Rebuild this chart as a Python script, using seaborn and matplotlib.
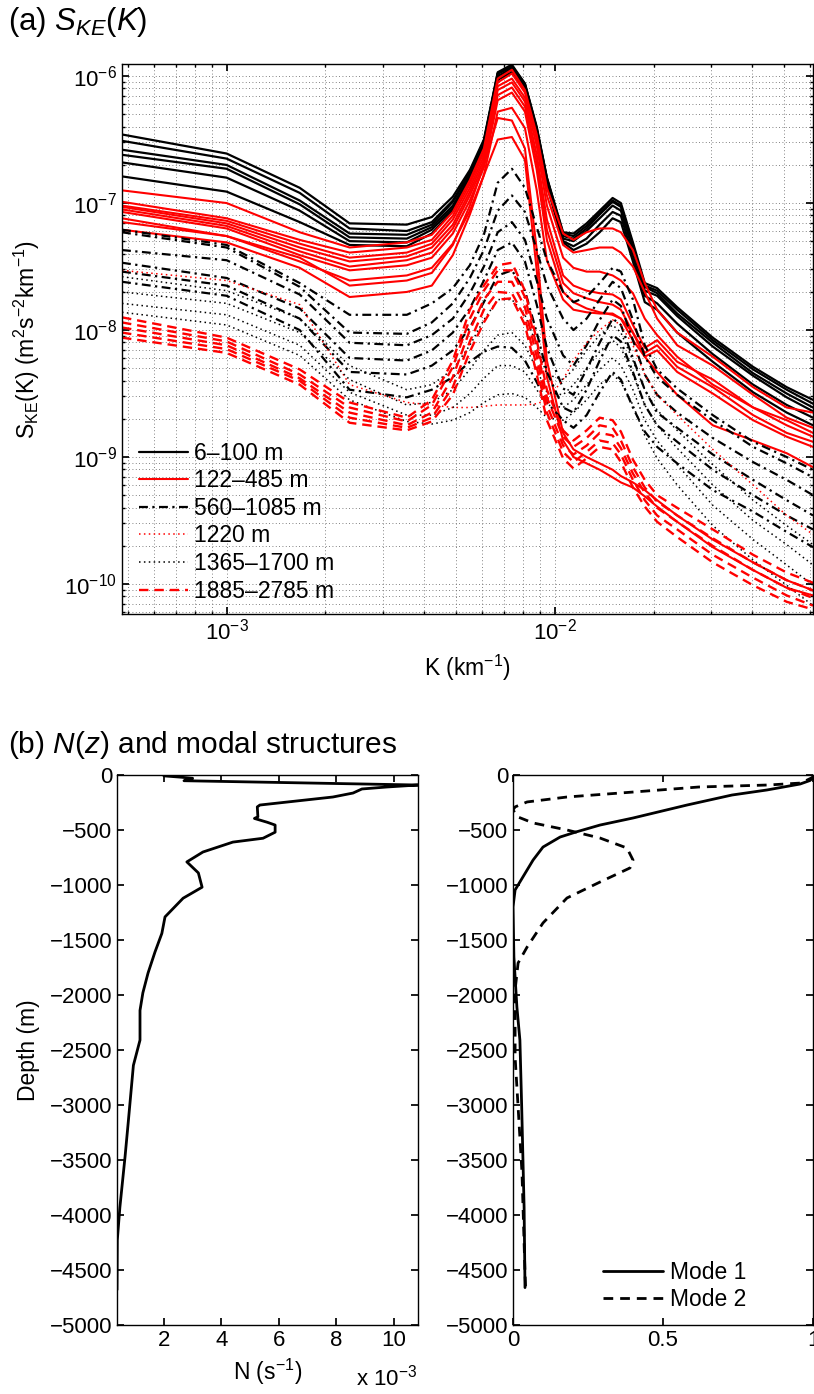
import numpy as np
import matplotlib
matplotlib.use("Agg")
import matplotlib.pyplot as plt
import seaborn as sns
from matplotlib.lines import Line2D
from matplotlib.ticker import LogLocator, NullFormatter

# ------------------------------------------------------------------
# (a) KE spectra (log10 of S_KE)
# ------------------------------------------------------------------
K = [4.8e-4, 1.0e-3, 1.67e-3, 2.37e-3, 3.54e-3, 4.22e-3, 4.89e-3, 5.51e-3,
     6.08e-3, 6.70e-3, 7.40e-3, 8.11e-3, 8.81e-3, 9.46e-3, 1.06e-2, 1.14e-2,
     1.25e-2, 1.37e-2, 1.50e-2, 1.59e-2, 1.73e-2, 1.88e-2, 2.05e-2, 2.36e-2,
     3.03e-2, 4.02e-2, 5.09e-2, 6.12e-2]

log_ske_6_100 = [
    [-6.46,-6.61,-6.88,-7.16,-7.17,-7.11,-6.95,-6.74,-6.50,-5.97,-5.91,-6.06,-6.40,-6.80,-7.23,-7.24,-7.16,-7.06,-6.96,-7.00,-7.31,-7.63,-7.67,-7.82,-8.06,-8.29,-8.45,-8.55],
    [-6.51,-6.65,-6.92,-7.20,-7.22,-7.15,-6.98,-6.76,-6.51,-5.98,-5.92,-6.06,-6.41,-6.80,-7.24,-7.26,-7.18,-7.08,-6.98,-7.02,-7.33,-7.65,-7.69,-7.84,-8.08,-8.31,-8.47,-8.58],
    [-6.58,-6.70,-6.98,-7.24,-7.25,-7.17,-6.99,-6.77,-6.52,-5.98,-5.93,-6.07,-6.42,-6.81,-7.26,-7.28,-7.20,-7.09,-6.99,-7.03,-7.35,-7.66,-7.71,-7.87,-8.10,-8.34,-8.50,-8.61],
    [-6.62,-6.73,-7.01,-7.27,-7.28,-7.19,-7.02,-6.79,-6.54,-6.00,-5.94,-6.09,-6.43,-6.83,-7.28,-7.30,-7.22,-7.12,-7.02,-7.06,-7.37,-7.69,-7.73,-7.89,-8.13,-8.36,-8.53,-8.64],
    [-6.68,-6.80,-7.06,-7.30,-7.31,-7.21,-7.04,-6.80,-6.55,-6.02,-5.95,-6.09,-6.45,-6.84,-7.30,-7.34,-7.28,-7.17,-7.07,-7.10,-7.42,-7.73,-7.79,-7.95,-8.19,-8.43,-8.59,-8.69],
    [-6.79,-6.91,-7.15,-7.33,-7.34,-7.24,-7.06,-6.82,-6.57,-6.03,-5.97,-6.11,-6.46,-6.86,-7.31,-7.37,-7.32,-7.23,-7.12,-7.15,-7.46,-7.78,-7.84,-8.02,-8.25,-8.49,-8.65,-8.75],
]
log_ske_122_485 = [
    [-6.90,-7.00,-7.23,-7.35,-7.31,-7.25,-7.07,-6.82,-6.57,-6.02,-5.95,-6.11,-6.46,-6.88,-7.24,-7.29,-7.23,-7.20,-7.20,-7.23,-7.37,-7.63,-7.84,-8.02,-8.21,-8.45,-8.61,-8.65],
    [-6.99,-7.12,-7.29,-7.39,-7.35,-7.29,-7.10,-6.85,-6.60,-6.05,-5.98,-6.13,-6.50,-6.94,-7.33,-7.39,-7.37,-7.35,-7.35,-7.39,-7.50,-7.70,-7.91,-8.12,-8.28,-8.51,-8.69,-8.77],
    [-7.02,-7.14,-7.32,-7.43,-7.39,-7.32,-7.13,-6.88,-6.63,-6.08,-6.02,-6.17,-6.55,-7.02,-7.43,-7.51,-7.54,-7.54,-7.57,-7.61,-7.71,-7.91,-8.04,-8.21,-8.43,-8.61,-8.71,-8.81],
    [-7.03,-7.16,-7.35,-7.46,-7.42,-7.35,-7.17,-6.91,-6.66,-6.11,-6.05,-6.20,-6.62,-7.13,-7.57,-7.65,-7.69,-7.71,-7.72,-7.76,-7.96,-8.14,-8.08,-8.25,-8.39,-8.61,-8.75,-8.84],
    [-7.05,-7.18,-7.38,-7.50,-7.45,-7.39,-7.20,-6.94,-6.69,-6.15,-6.09,-6.24,-6.68,-7.21,-7.63,-7.71,-7.75,-7.78,-7.80,-7.84,-8.02,-8.18,-8.12,-8.29,-8.45,-8.67,-8.81,-8.88],
    [-7.07,-7.20,-7.41,-7.53,-7.49,-7.43,-7.24,-6.98,-6.72,-6.19,-6.13,-6.28,-6.74,-7.29,-7.70,-7.78,-7.83,-7.86,-7.88,-7.91,-8.08,-8.21,-8.16,-8.33,-8.50,-8.71,-8.84,-8.92],
    [-7.12,-7.26,-7.46,-7.61,-7.57,-7.51,-7.32,-7.06,-6.78,-6.28,-6.25,-6.41,-6.90,-7.45,-7.76,-7.84,-7.86,-7.87,-7.87,-7.91,-8.02,-8.21,-8.33,-8.51,-8.75,-8.87,-8.97,-9.08],
    [-7.15,-7.26,-7.43,-7.65,-7.61,-7.55,-7.33,-7.02,-6.70,-6.33,-6.35,-6.57,-7.37,-8.24,-8.81,-8.94,-9.00,-9.05,-9.10,-9.15,-9.20,-9.26,-9.34,-9.46,-9.65,-9.83,-9.97,-10.05],
    [-7.21,-7.31,-7.51,-7.74,-7.70,-7.65,-7.41,-7.09,-6.78,-6.50,-6.48,-6.66,-7.53,-8.37,-8.87,-9.00,-9.05,-9.10,-9.16,-9.20,-9.24,-9.31,-9.39,-9.51,-9.71,-9.89,-10.03,-10.09],
]
log_ske_560_1085 = [
    [-7.21,-7.33,-7.63,-7.88,-7.88,-7.79,-7.67,-7.49,-7.25,-6.84,-6.73,-6.88,-7.19,-7.45,-7.70,-7.78,-7.74,-7.63,-7.51,-7.54,-7.76,-8.12,-8.31,-8.46,-8.67,-8.88,-9.00,-9.10],
    [-7.23,-7.35,-7.66,-8.02,-8.03,-7.94,-7.79,-7.59,-7.37,-7.06,-6.94,-7.07,-7.37,-7.65,-7.91,-8.00,-7.91,-7.76,-7.62,-7.67,-7.92,-8.21,-8.37,-8.51,-8.71,-8.92,-9.05,-9.16],
    [-7.37,-7.45,-7.72,-8.10,-8.12,-8.04,-7.91,-7.71,-7.50,-7.23,-7.15,-7.29,-7.61,-7.91,-8.20,-8.28,-8.12,-7.92,-7.76,-7.81,-8.08,-8.35,-8.51,-8.65,-8.85,-9.04,-9.18,-9.30],
    [-7.47,-7.59,-7.83,-8.22,-8.24,-8.16,-8.02,-7.83,-7.61,-7.37,-7.31,-7.46,-7.80,-8.14,-8.46,-8.51,-8.31,-8.10,-7.91,-7.96,-8.22,-8.47,-8.65,-8.77,-8.98,-9.18,-9.34,-9.46],
    [-7.54,-7.65,-7.91,-8.33,-8.35,-8.28,-8.16,-7.98,-7.78,-7.57,-7.53,-7.69,-8.02,-8.33,-8.61,-8.65,-8.47,-8.24,-8.04,-8.09,-8.33,-8.59,-8.75,-8.88,-9.10,-9.30,-9.46,-9.57],
    [-7.62,-7.73,-8.00,-8.47,-8.53,-8.47,-8.37,-8.25,-8.17,-8.13,-8.14,-8.24,-8.41,-8.57,-8.71,-8.77,-8.67,-8.49,-8.33,-8.39,-8.61,-8.80,-8.92,-9.05,-9.26,-9.43,-9.59,-9.71],
]
log_ske_1220 = [
    [-7.53,-7.61,-7.80,-8.43,-8.57,-8.59,-8.61,-8.61,-8.60,-8.59,-8.59,-8.59,-8.58,-8.55,-8.39,-8.24,-8.10,-8.00,-7.92,-7.96,-8.12,-8.35,-8.51,-8.67,-8.94,-9.22,-9.46,-9.61],
]
log_ske_1365_1700 = [
    [-7.58,-7.69,-7.91,-8.28,-8.47,-8.43,-8.31,-8.12,-7.92,-7.76,-7.76,-7.88,-8.12,-8.35,-8.39,-8.31,-8.16,-8.04,-7.96,-8.02,-8.24,-8.47,-8.63,-8.79,-9.06,-9.34,-9.54,-9.69],
    [-7.70,-7.79,-8.02,-8.39,-8.59,-8.57,-8.47,-8.31,-8.16,-8.04,-8.02,-8.12,-8.31,-8.49,-8.51,-8.43,-8.30,-8.17,-8.08,-8.14,-8.35,-8.59,-8.75,-8.93,-9.22,-9.50,-9.69,-9.85],
    [-7.79,-7.88,-8.12,-8.49,-8.67,-8.67,-8.61,-8.50,-8.38,-8.28,-8.28,-8.33,-8.47,-8.59,-8.61,-8.55,-8.43,-8.31,-8.22,-8.28,-8.47,-8.71,-8.87,-9.06,-9.38,-9.65,-9.85,-10.01],
    [-7.86,-7.96,-8.20,-8.55,-8.72,-8.74,-8.71,-8.65,-8.57,-8.51,-8.50,-8.53,-8.61,-8.69,-8.71,-8.65,-8.55,-8.43,-8.35,-8.41,-8.59,-8.83,-9.01,-9.22,-9.54,-9.81,-10.01,-10.17],
]
log_ske_1885_2785 = [
    [-7.90,-8.06,-8.31,-8.57,-8.69,-8.55,-8.24,-7.84,-7.65,-7.49,-7.47,-7.69,-8.08,-8.47,-8.79,-8.87,-8.79,-8.69,-8.71,-8.80,-9.02,-9.18,-9.30,-9.40,-9.57,-9.77,-9.91,-9.99],
    [-7.94,-8.09,-8.35,-8.61,-8.72,-8.59,-8.29,-7.91,-7.69,-7.53,-7.53,-7.74,-8.13,-8.53,-8.84,-8.92,-8.85,-8.75,-8.77,-8.87,-9.08,-9.24,-9.35,-9.46,-9.64,-9.83,-9.97,-10.05],
    [-7.98,-8.12,-8.38,-8.65,-8.75,-8.65,-8.37,-8.00,-7.76,-7.62,-7.62,-7.82,-8.21,-8.59,-8.91,-8.98,-8.91,-8.81,-8.83,-8.93,-9.13,-9.28,-9.40,-9.51,-9.70,-9.89,-10.03,-10.11],
    [-8.02,-8.15,-8.40,-8.69,-8.77,-8.69,-8.45,-8.09,-7.84,-7.70,-7.71,-7.90,-8.29,-8.65,-8.96,-9.04,-8.96,-8.87,-8.89,-8.98,-9.18,-9.34,-9.46,-9.57,-9.77,-9.95,-10.09,-10.17],
    [-8.06,-8.18,-8.43,-8.73,-8.79,-8.72,-8.51,-8.17,-7.94,-7.76,-7.75,-7.96,-8.35,-8.71,-9.01,-9.09,-9.01,-8.92,-8.94,-9.04,-9.24,-9.39,-9.51,-9.63,-9.83,-10.01,-10.14,-10.20],
]

group_labels = ["6–100 m", "122–485 m", "560–1085 m", "1220 m", "1365–1700 m", "1885–2785 m"]

# ------------------------------------------------------------------
# (b) stratification and modal structures
# ------------------------------------------------------------------
depth_n = [-8, -20, -30, -52, -91, -109, -127, -164, -200, -273, -290, -380, -395, -430,
           -455, -520, -575, -610, -700, -790, -890, -1020, -1120, -1290, -1440, -1610,
           -1800, -1980, -2140, -2410, -2640, -3160, -3470, -3930, -4230, -4680]
n_1e3 = [2.0, 2.6, 3.0, 2.7, 10.84, 9.76, 8.89, 8.58, 7.88, 5.34, 5.25, 5.27, 5.15, 5.6,
         5.87, 5.87, 5.45, 4.4, 3.36, 2.8, 3.2, 3.33, 2.67, 2.04, 1.93, 1.69,
         1.45, 1.27, 1.17, 1.17, 0.94, 0.76, 0.65, 0.47, 0.38, 0.37]

depth_m1 = [0, -25, -50, -82, -136, -182, -273, -391, -455, -518, -564, -655, -773, -927,
            -1045, -1200, -1655, -2110, -2410, -3020, -3930, -4660]
mode1 = [1.0, 1.0, 0.99, 0.957, 0.847, 0.73, 0.58, 0.40, 0.29, 0.21, 0.157, 0.10, 0.067, 0.033,
         0.007, 0.0, 0.003, 0.013, 0.023, 0.029, 0.037, 0.040]

depth_m2 = [0, -20, -73, -91, -109, -155, -200, -245, -290, -318, -382, -436, -500, -573,
            -664, -773, -845, -973, -1118, -1345, -1564, -1709, -1955, -2564, -3018, -3618,
            -4527, -4660]
mode2 = [1.0, 1.0, 0.96, 0.85, 0.62, 0.40, 0.18, 0.047, 0.007, 0.0, 0.017, 0.067, 0.18, 0.29,
         0.38, 0.40, 0.39, 0.29, 0.18, 0.10, 0.047, 0.017, 0.007, 0.007, 0.017, 0.03,
         0.04, 0.042]

# ------------------------------------------------------------------
# style
# ------------------------------------------------------------------
sns.set_theme(style="ticks")
plt.rcParams["font.family"] = ["Liberation Sans", "DejaVu Sans"]
plt.rcParams.update({
    "font.size": 16.5,
    "text.color": "black",
    "axes.labelcolor": "black",
    "mathtext.fontset": "custom",
    "mathtext.rm": "Liberation Sans",
    "mathtext.it": "Liberation Sans:italic",
    "mathtext.bf": "Liberation Sans:bold",
    "axes.linewidth": 1.0,
    "axes.edgecolor": "black",
    "xtick.direction": "in", "ytick.direction": "in",
    "xtick.top": True, "ytick.right": True,
    "xtick.major.size": 5, "ytick.major.size": 5,
    "xtick.minor.size": 2.5, "ytick.minor.size": 2.5,
    "xtick.labelsize": 16, "ytick.labelsize": 16,
    "xtick.color": "black", "ytick.color": "black",
    "xtick.labelcolor": "black", "ytick.labelcolor": "black",
})

RED = (1, 0, 0)
styles = [
    dict(color="black", lw=1.6, ls="-"),
    dict(color=RED, lw=1.5, ls="-"),
    dict(color="black", lw=1.6, ls=(0, (4, 2, 1, 2))),
    dict(color=RED, lw=1.1, ls=(0, (1, 2.2))),
    dict(color="black", lw=1.1, ls=(0, (1, 2.2))),
    dict(color=RED, lw=1.7, ls=(0, (4, 2.5))),
]
groups = [log_ske_6_100, log_ske_122_485, log_ske_560_1085,
          log_ske_1220, log_ske_1365_1700, log_ske_1885_2785]

W, H = 814, 1394
fig = plt.figure(figsize=(W / 100, H / 100), dpi=100)

# ---------------- panel (a) ----------------
ax = fig.add_axes([122 / W, 1 - 614 / H, 691 / W, 550 / H])
ax.set_xscale("log")
ax.set_yscale("log")
for rows, st in zip(groups, styles):
    for row in rows:
        sns.lineplot(x=K, y=10.0 ** np.array(row), ax=ax, estimator=None, sort=False,
                     color=st["color"], lw=st["lw"], linestyle=st["ls"], legend=False)
ax.set_xlim(4.8e-4, 6.12e-2)
ax.set_ylim(10 ** -10.236, 10 ** -5.905)
ax.xaxis.set_major_locator(LogLocator(base=10, numticks=10))
ax.xaxis.set_minor_locator(LogLocator(base=10, subs=np.arange(2, 10), numticks=20))
ax.yaxis.set_major_locator(LogLocator(base=10, numticks=10))
ax.yaxis.set_minor_locator(LogLocator(base=10, subs=np.arange(2, 10), numticks=20))
ax.xaxis.set_minor_formatter(NullFormatter())
ax.yaxis.set_minor_formatter(NullFormatter())
ax.grid(True, which="both", color="0.35", lw=0.6, ls=(0, (1, 3)))
ax.set_xlabel("K (km$^{-1}$)", fontsize=16.5, labelpad=6)
ax.set_ylabel("S$_{\\mathrm{KE}}$(K) (m$^2$s$^{-2}$km$^{-1}$)", fontsize=16.5)
ax.yaxis.set_label_coords(-0.116, 0.5)

handles = [Line2D([], [], color=st["color"], lw=st["lw"], ls=st["ls"]) for st in styles]
ax.legend(handles, group_labels, loc="lower left", frameon=False, fontsize=16.5,
          handlelength=2.1, handletextpad=0.3, labelspacing=0.2,
          borderaxespad=0.0, bbox_to_anchor=(0.012, 0.004))

fig.text(8 / W, 1 - 22 / H, "(a) $S_{KE}$($K$)", fontsize=22.5, va="center", ha="left")

# ---------------- panel (b) ----------------
fig.text(8 / W, 1 - 745 / H, "(b) $N$($z$) and modal structures", fontsize=21.5,
         va="center", ha="left")

axn = fig.add_axes([117 / W, 1 - 1325 / H, 301 / W, 550 / H])
sns.lineplot(x=n_1e3, y=depth_n, ax=axn, estimator=None, sort=False,
             color="black", lw=2.0, legend=False)
axn.set_xlim(min(n_1e3), max(n_1e3))
axn.set_ylim(-5000, 0)
axn.set_xticks([2, 4, 6, 8, 10])
axn.set_yticks(np.arange(-5000, 1, 500))
axn.set_xlabel("N (s$^{-1}$)", fontsize=16.5, labelpad=4)
axn.set_ylabel("Depth (m)", fontsize=16.5)
axn.yaxis.set_label_coords(-0.256, 0.5)
fig.text(356 / W, 1 - 1378 / H, "x 10$^{-3}$", fontsize=16, va="center", ha="left")

axm = fig.add_axes([513 / W, 1 - 1325 / H, 300 / W, 550 / H])
sns.lineplot(x=mode1, y=depth_m1, ax=axm, estimator=None, sort=False,
             color="black", lw=2.0, legend=False)
sns.lineplot(x=mode2, y=depth_m2, ax=axm, estimator=None, sort=False,
             color="black", lw=2.0, linestyle=(0, (3.5, 2.5)), legend=False)
axm.set_xlim(0, 1)
axm.set_ylim(-5000, 0)
axm.set_xticks([0, 0.5, 1])
axm.set_xticklabels(["0", "0.5", "1"])
axm.set_yticks(np.arange(-5000, 1, 500))
axm.set_xlabel("")
axm.set_ylabel("")
mh = [Line2D([], [], color="black", lw=2.0),
      Line2D([], [], color="black", lw=2.0, ls=(0, (3.5, 2.5)))]
axm.legend(mh, ["Mode 1", "Mode 2"], loc="lower left", frameon=False, fontsize=16.5,
           handlelength=2.6, handletextpad=0.3, labelspacing=0.2,
           borderaxespad=0.0, bbox_to_anchor=(0.27, 0.008))

for a in (axn, axm):
    a.tick_params(which="both", direction="in", top=True, right=True)

fig.savefig("out.png", dpi=100)
